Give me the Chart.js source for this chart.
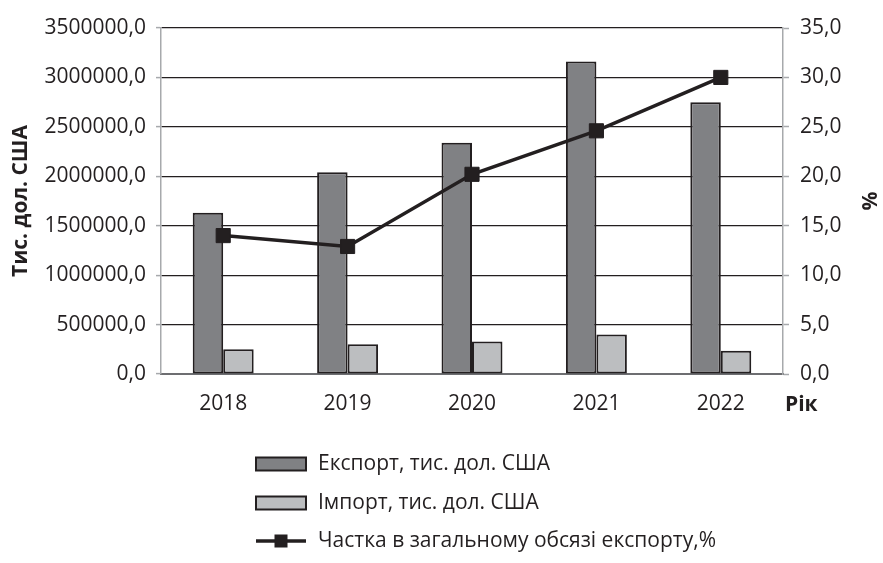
<!DOCTYPE html>
<html><head><meta charset="utf-8">
<script src="https://cdn.jsdelivr.net/npm/chart.js@4/dist/chart.umd.min.js"></script>
<style>html,body{margin:0;padding:0;background:#fff}</style>
</head><body>
<canvas id="c" width="883" height="563"></canvas>
<script>
const years = ['2018', '2019', '2020', '2021', '2022'];
const exportValues = [1630000, 2040000, 2340000, 3160000, 2750000];
const importValues = [250000, 300000, 330000, 400000, 235000];
const shareValues = [14.0, 12.9, 20.2, 24.6, 30.0];
const seriesNames = ['Експорт, тис. дол. США', 'Імпорт, тис. дол. США', 'Частка в загальному обсязі експорту,%'];
const leftTitle = 'Тис. дол. США';
const rightTitle = '%';
const xTitle = 'Рік';

const FONT = 'Open Sans';
const TXT = '#231f20';
const fmt = v => Number(v).toFixed(1).replace('.', ',');

const customLegend = {
  id: 'customLegend',
  afterDraw(chart) {
    const ctx = chart.ctx;
    const ca = chart.chartArea;
    ctx.save();
    ctx.fillStyle = TXT;
    ctx.textBaseline = 'middle';
    ctx.textAlign = 'left';
    ctx.font = 'bold 21px "' + FONT + '"';
    ctx.fillText(xTitle, ca.right + 2, 405);
    ctx.save();
    ctx.translate(871, (ca.top + ca.bottom) / 2);
    ctx.rotate(-Math.PI / 2);
    ctx.textAlign = 'center';
    ctx.fillText(rightTitle, 0, 0);
    ctx.restore();
    const rows = [464, 503, 541];
    const bx = 256, bw = 50, tx = 318;
    ctx.font = '21px "' + FONT + '"';
    chart.data.datasets.forEach((ds, i) => {
      const y = rows[i];
      if (ds.type === 'line') {
        ctx.strokeStyle = ds.borderColor;
        ctx.lineWidth = 3.5;
        ctx.beginPath(); ctx.moveTo(bx, y); ctx.lineTo(bx + bw, y); ctx.stroke();
        ctx.fillStyle = ds.pointBackgroundColor;
        ctx.fillRect(bx + bw / 2 - 6.5, y - 6.5, 13, 13);
      } else {
        ctx.fillStyle = ds.backgroundColor;
        ctx.fillRect(bx, y - 6.5, bw, 13);
        ctx.strokeStyle = ds.borderColor;
        ctx.lineWidth = 2;
        ctx.strokeRect(bx, y - 6.5, bw, 13);
      }
      ctx.fillStyle = TXT;
      ctx.fillText(ds.label, tx, y);
    });
    ctx.restore();
  }
};

new Chart(document.getElementById('c'), {
  type: 'bar',
  data: {
    labels: years,
    datasets: [
      { type: 'bar', label: seriesNames[0], data: exportValues, yAxisID: 'y', order: 2,
        backgroundColor: '#808184', borderColor: '#231f20', borderWidth: 2, borderSkipped: false,
        barPercentage: 1, categoryPercentage: 0.49 },
      { type: 'bar', label: seriesNames[1], data: importValues, yAxisID: 'y', order: 2,
        backgroundColor: '#bcbec0', borderColor: '#231f20', borderWidth: 2, borderSkipped: false,
        barPercentage: 1, categoryPercentage: 0.49 },
      { type: 'line', label: seriesNames[2], data: shareValues, yAxisID: 'y1', order: 0,
        borderColor: '#231f20', borderWidth: 3.5, pointStyle: 'rect', pointRadius: 10, pointHoverRadius: 10,
        pointBackgroundColor: '#231f20', pointBorderColor: '#231f20', pointBorderWidth: 1, tension: 0, fill: false }
    ]
  },
  options: {
    responsive: false,
    animation: false,
    devicePixelRatio: 1,
    layout: { padding: { top: 28, left: 0, right: 0, bottom: 0 } },
    plugins: { legend: { display: false }, tooltip: { enabled: false }, title: { display: false } },
    scales: {
      x: {
        grid: { display: false, drawTicks: false },
        border: { display: true, color: '#6d6e71', width: 2 },
        ticks: { color: TXT, font: { family: FONT, size: 21 }, padding: 17 },
        afterFit: s => { s.height = 189; }
      },
      y: {
        position: 'left', min: 0, max: 3500000,
        grid: { color: '#231f20', lineWidth: 1.2, tickColor: '#a7a9ac', tickLength: 5, tickWidth: 1.5 },
        border: { display: true, color: '#a7a9ac', width: 1.5 },
        ticks: { stepSize: 500000, color: TXT, font: { family: FONT, size: 21 }, padding: 10, callback: v => fmt(v) },
        title: { display: true, text: leftTitle, color: TXT, font: { family: FONT, size: 21, weight: 'bold' }, padding: { top: 8, bottom: 4 } },
        afterFit: s => { s.width = 161; }
      },
      y1: {
        position: 'right', min: 0, max: 35,
        grid: { drawOnChartArea: false, color: '#a7a9ac', tickColor: '#a7a9ac', tickLength: 6, tickWidth: 1.5 },
        border: { display: true, color: '#a7a9ac', width: 1.5 },
        ticks: { stepSize: 5, color: TXT, font: { family: FONT, size: 21 }, padding: 11, callback: v => fmt(v) },
        title: { display: false },
        afterFit: s => { s.width = 100; }
      }
    }
  },
  plugins: [customLegend]
});
</script>
</body></html>
